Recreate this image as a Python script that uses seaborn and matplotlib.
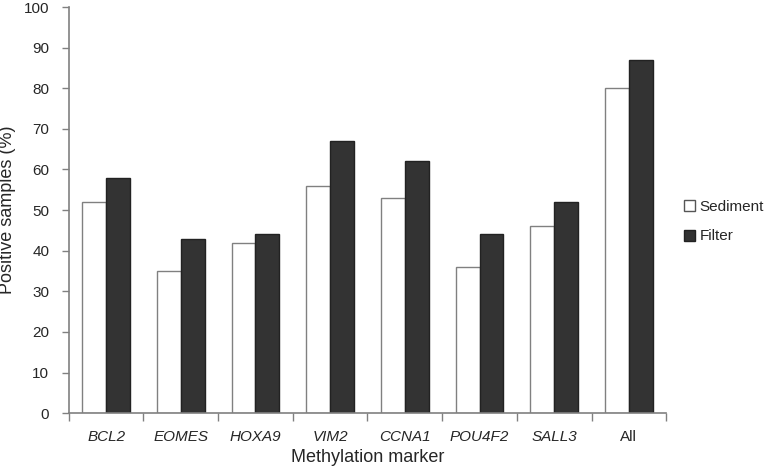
import numpy as np
import pandas as pd
import matplotlib
matplotlib.use("Agg")
import matplotlib.pyplot as plt
from matplotlib.patches import Patch
import seaborn as sns

markers = ["BCL2", "EOMES", "HOXA9", "VIM2", "CCNA1", "POU4F2", "SALL3", "All"]
sediment = [52, 35, 42, 56, 53, 36, 46, 80]
filter_vals = [58, 43, 44, 67, 62, 44, 52, 87]

df = pd.DataFrame({
    "marker": markers * 2,
    "sample": ["Sediment"] * len(markers) + ["Filter"] * len(markers),
    "value": sediment + filter_vals,
})

sns.set_style("white")
plt.rcParams["font.family"] = ["Liberation Sans", "DejaVu Sans"]

fig = plt.figure(figsize=(7.64, 4.69), dpi=100)
ax = fig.add_axes([0.090, 0.119, 0.782, 0.866])

sns.barplot(
    data=df, x="marker", y="value", hue="sample",
    hue_order=["Sediment", "Filter"], order=markers,
    palette={"Sediment": "white", "Filter": "#333333"},
    width=0.64, gap=0, ax=ax, errorbar=None, legend=False,
)
# edge colours per series
for i, cont in enumerate(ax.containers):
    for bar in cont:
        bar.set_edgecolor("#808080" if i == 0 else "#222222")
        bar.set_linewidth(1.0)

ax.set_xlim(-0.5, len(markers) - 0.5)
ax.set_ylim(0, 100)
ax.set_yticks(range(0, 101, 10))

# category boundary ticks on x
ax.set_xticks(np.arange(-0.5, len(markers), 1.0), minor=True)
ax.tick_params(axis="x", which="major", length=0, pad=12, labelsize=11)
ax.tick_params(axis="x", which="minor", length=6, direction="out", color="#808080", width=1)
ax.tick_params(axis="y", length=5, direction="out", color="#808080", width=1, labelsize=11, pad=9)
ax.xaxis.set_ticks_position("bottom")
ax.yaxis.set_ticks_position("left")

for lbl in ax.get_xticklabels():
    if lbl.get_text() != "All":
        lbl.set_fontstyle("italic")

for side in ["top", "right"]:
    ax.spines[side].set_visible(False)
for side in ["left", "bottom"]:
    ax.spines[side].set_color("#808080")
    ax.spines[side].set_linewidth(1.2)

ax.set_xlabel("Methylation marker", fontsize=13, labelpad=4)
ax.set_ylabel("Positive samples (%)", fontsize=13)
ax.yaxis.set_label_coords(-0.088, 0.5)

handles = [
    Patch(facecolor="white", edgecolor="#555555", linewidth=1.0, label="Sediment"),
    Patch(facecolor="#333333", edgecolor="#222222", linewidth=1.0, label="Filter"),
]
fig.legend(
    handles=handles, loc="center left", bbox_to_anchor=(0.895, 0.527),
    frameon=False, fontsize=11, handlelength=0.75, handleheight=0.75,
    handletextpad=0.3, labelspacing=1.0, borderpad=0, borderaxespad=0,
)

fig.savefig("out.png", dpi=100)
